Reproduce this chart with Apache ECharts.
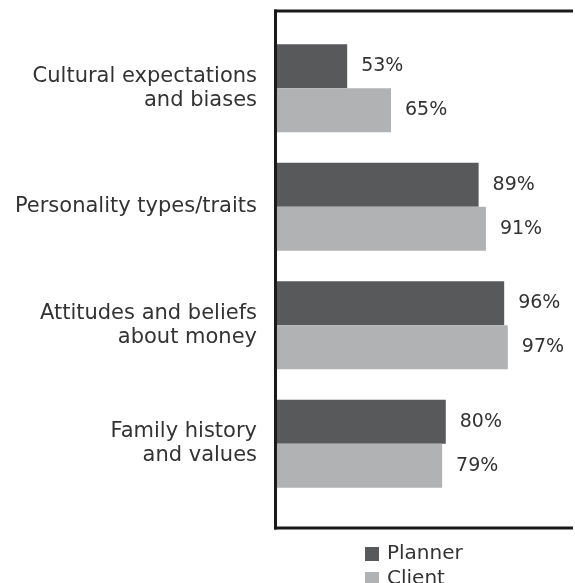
<!DOCTYPE html>
<html>
<head>
<meta charset="utf-8">
<script src="https://cdn.jsdelivr.net/npm/echarts@6/dist/echarts.min.js"></script>
<style>
  html, body { margin: 0; padding: 0; background: #fff; overflow: hidden; }
  #chart { width: 575px; height: 583px; }
</style>
</head>
<body>
<div id="chart"></div>
<script>
// Influences on financial behaviour, share of respondents (%)
const categories = [
  'Cultural expectations\nand biases',
  'Personality types/traits',
  'Attitudes and beliefs\nabout money',
  'Family history\nand values'
];
const seriesNames = ['Planner', 'Client'];
const plannerValues = [53, 89, 96, 80];
const clientValues = [65, 91, 97, 79];

const FONT = '"DejaVu Sans", sans-serif';
const TEXT = '#333333';
const COLORS = ['#58595b', '#b1b2b4'];
const FRAME = '#1a1a1a';

const chart = echarts.init(document.getElementById('chart'), null, { renderer: 'canvas' });

const valueLabel = {
  show: true,
  position: 'right',
  distance: 14,
  formatter: p => p.value + '%',
  color: TEXT,
  fontFamily: FONT,
  fontSize: 19
};

chart.setOption({
  animation: false,
  backgroundColor: '#ffffff',
  grid: {
    left: 276,
    right: 0,
    top: 29,
    height: 474,
    containLabel: false
  },
  xAxis: {
    type: 'value',
    min: 33.5,
    max: 115.4,
    show: false
  },
  yAxis: {
    type: 'category',
    inverse: true,
    data: categories,
    axisLine: { show: false },
    axisTick: { show: false },
    axisLabel: {
      margin: 19,
      align: 'right',
      color: TEXT,
      fontFamily: FONT,
      fontSize: 21,
      lineHeight: 24
    }
  },
  legend: {
    orient: 'vertical',
    left: 360,
    top: 539,
    height: 70,
    itemWidth: 14,
    itemHeight: 14,
    itemGap: 5,
    icon: 'rect',
    textStyle: { color: TEXT, fontFamily: FONT, fontSize: 20, lineHeight: 20, padding: [0, 0, 0, 3] },
    data: seriesNames
  },
  series: [
    {
      name: seriesNames[0],
      type: 'bar',
      data: plannerValues,
      barWidth: 44,
      barGap: '0%',
      itemStyle: { color: COLORS[0] },
      label: valueLabel
    },
    {
      name: seriesNames[1],
      type: 'bar',
      data: clientValues,
      barWidth: 44,
      barGap: '0%',
      itemStyle: { color: COLORS[1] },
      label: valueLabel
    }
  ],
  graphic: [
    // frame: top, left and bottom edges, open towards the right
    { type: 'line', z: 100, shape: { x1: 274, y1: 11, x2: 573, y2: 11 }, style: { stroke: FRAME, lineWidth: 3 } },
    { type: 'line', z: 100, shape: { x1: 275.5, y1: 9.5, x2: 275.5, y2: 529.5 }, style: { stroke: FRAME, lineWidth: 3 } },
    { type: 'line', z: 100, shape: { x1: 274, y1: 528, x2: 573, y2: 528 }, style: { stroke: FRAME, lineWidth: 3 } }
  ]
});
</script>
</body>
</html>
